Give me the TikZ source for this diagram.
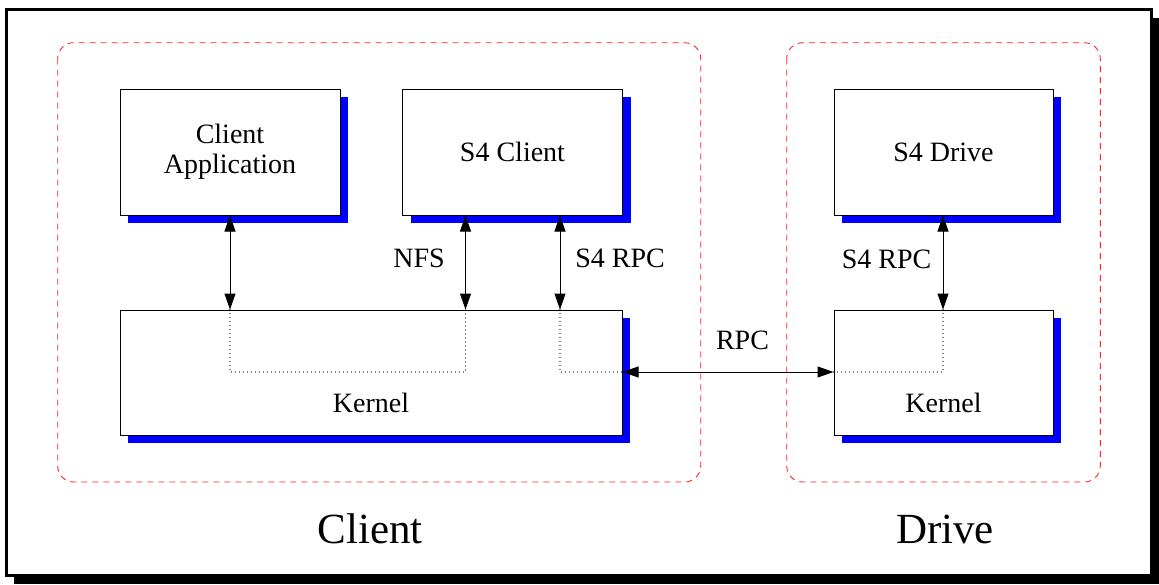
\documentclass[tikz,border=0pt]{standalone}
\usepackage{fontspec}
\setmainfont{Liberation Serif}
\usetikzlibrary{arrows.meta,shadows,positioning}

\tikzset{
  box/.style={draw, fill=white, line width=1pt, inner sep=0pt,
    minimum width=220pt, minimum height=126pt, align=center,
    drop shadow={shadow xshift=8pt, shadow yshift=-8pt, fill=blue, opacity=1}},
  region/.style={draw=red!85, line width=0.9pt, dash pattern=on 6pt off 5pt, rounded corners=16pt},
  biarrow/.style={line width=1pt, >={Triangle[length=16pt,width=11pt]}, <->},
  inner/.style={line width=1.3pt, line cap=round, dash pattern=on 0pt off 4pt},
  lbl/.style={anchor=base, font=\fontsize{28}{30}\selectfont},
  big/.style={anchor=base, font=\fontsize{43}{48}\selectfont}
}

\begin{document}
\begin{tikzpicture}[x=1pt, y=-1pt]

        \useasboundingbox (0,0) rectangle (1159,584);
        \draw[line width=3pt, fill=white,
          drop shadow={shadow xshift=7.5pt, shadow yshift=-8.5pt, fill=black, opacity=1}]
          (6.5,9.5) rectangle (1151.5,575.5);

        \draw[region] (57.7,42.7) rectangle (700.7,482);
        \draw[region] (786.7,42.7) rectangle (1100.3,482);

        \begin{scope}[every node/.style={box, font=\fontsize{28}{30}\selectfont}]
          \node (app) at (230,152)   {Client\\Application};
          \node (s4c) at (512.5,152) {S4 Client};
          \node (s4d) at (943.5,152) [minimum width=219pt] {S4 Drive};
          \node (kl)  at (371,372.5) [minimum width=502pt, minimum height=125pt] {};
          \node (kd)  at (943.5,372.5) [minimum width=219pt, minimum height=125pt] {};
        \end{scope}

        \coordinate (k1) at (230,372);
        \coordinate (k2) at (465.5,372);
        \coordinate (k3) at (560,372);
        \coordinate (k4) at (943,372);

        \begin{scope}[every node/.style={lbl}]
          \node at ([yshift=23pt]kl.south) {Kernel};
          \node at ([yshift=23pt]kd.south) {Kernel};
          \node (nfs)  at (419,267)   {NFS};
          \node (rpc1) at (620,267)   {S4 RPC};
          \node (rpc2) at (886.5,268) {S4 RPC};
          \node (rpc)  at (742.5,349) {RPC};
        \end{scope}

        \begin{scope}[every node/.style={big}]
          \node (client) at (370,543) {Client};
          \node (drive)  at (945,543) {Drive};
        \end{scope}

        \draw[inner] (k1 |- kl.north) -- (k1) -- (k2) -- (k2 |- kl.north);
        \draw[inner] (k3 |- kl.north) -- (k3) -- (kl.east |- k3);
        \draw[inner] (kd.west |- k4) -- (k4) -- (k4 |- kd.north);

        \draw[biarrow] (app.south) -- (app.south |- kl.north);
        \draw[biarrow] (k2 |- s4c.south) -- (k2 |- kl.north);
        \draw[biarrow] (k3 |- s4c.south) -- (k3 |- kl.north);
        \draw[biarrow] (k4 |- s4d.south) -- (k4 |- kd.north);
        \draw[biarrow] (kl.east |- k3) -- (kd.west |- k4);

      \end{tikzpicture}
\end{document}
